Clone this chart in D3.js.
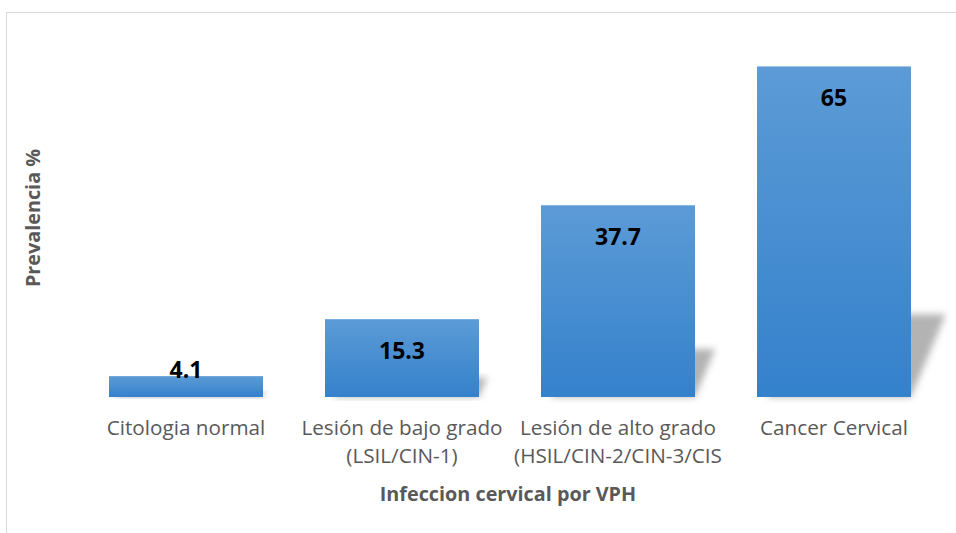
<!DOCTYPE html>
<html>
<head>
<meta charset="utf-8">
<script src="https://cdn.jsdelivr.net/npm/d3@7"></script>
<style>
  body { margin: 0; background: #fff; }
  svg { display: block; font-family: 'Open Sans', sans-serif; }
</style>
</head>
<body>
<svg id="chart" width="956" height="533"></svg>
<script>
'use strict';

// data
const categories = [
  ['Citologia normal'],
  ['Lesión de bajo grado', '(LSIL/CIN-1)'],
  ['Lesión de alto grado', '(HSIL/CIN-2/CIN-3/CIS'],
  ['Cancer Cervical'],
];
const prevalence = [4.1, 15.3, 37.7, 65];
const xTitle = 'Infeccion cervical por VPH';
const yTitle = 'Prevalencia %';

const svg = d3.select('#chart');
const baseline = 397;

// chart area border (cropped on the right and bottom)
svg.append('rect')
  .attr('x', 6.5).attr('y', 12.5)
  .attr('width', 1000).attr('height', 600)
  .attr('fill', 'none')
  .attr('stroke', '#d9d9d9');

const defs = svg.append('defs');
const grad = defs.append('linearGradient')
  .attr('id', 'barGrad')
  .attr('x1', 0).attr('y1', 0).attr('x2', 0).attr('y2', 1);
grad.append('stop').attr('offset', '0%').attr('stop-color', '#5c9bd6');
grad.append('stop').attr('offset', '100%').attr('stop-color', '#3481cc');

defs.append('filter')
  .attr('id', 'blur')
  .attr('x', '-20%').attr('y', '-20%').attr('width', '140%').attr('height', '140%')
  .append('feGaussianBlur')
  .attr('stdDeviation', 3.5);

const xScale = d3.scaleBand()
  .domain(d3.range(categories.length))
  .range([78, 942])
  .paddingInner(0.287)
  .paddingOuter(0.1435);

const yScale = d3.scaleLinear()
  .domain([0, 70])
  .range([baseline, 41]);

// perspective shadows behind the bars
svg.append('g')
  .selectAll('path')
  .data(prevalence)
  .join('path')
  .attr('fill', '#a6a6a6')
  .attr('opacity', 0.85)
  .attr('filter', 'url(#blur)')
  .attr('d', function(d, i) {
    const x0 = xScale(i);
    const x1 = x0 + xScale.bandwidth();
    const h = (baseline - yScale(d)) * 0.25;
    const dx = h * 0.42;
    return 'M' + (x0 + 10) + ',' + baseline +
      ' L' + x1 + ',' + baseline +
      ' L' + (x1 + dx) + ',' + (baseline - h) +
      ' L' + (x0 + dx) + ',' + (baseline - h) + ' Z';
  });

// bars
svg.append('g')
  .selectAll('rect')
  .data(prevalence)
  .join('rect')
  .attr('x', (d, i) => xScale(i))
  .attr('y', (d) => yScale(d))
  .attr('width', xScale.bandwidth())
  .attr('height', (d) => baseline - yScale(d))
  .attr('fill', 'url(#barGrad)');

// value labels
svg.append('g')
  .selectAll('text')
  .data(prevalence)
  .join('text')
  .attr('x', (d, i) => xScale(i) + xScale.bandwidth() / 2)
  .attr('y', (d) => Math.min(yScale(d) + 40, baseline - 19))
  .attr('text-anchor', 'middle')
  .attr('font-size', 23)
  .attr('font-weight', 'bold')
  .attr('fill', '#000')
  .text((d) => d);

// category labels
const ticks = svg.append('g')
  .selectAll('text')
  .data(categories)
  .join('text')
  .attr('x', (d, i) => xScale(i) + xScale.bandwidth() / 2)
  .attr('y', 435)
  .attr('text-anchor', 'middle')
  .attr('font-size', 20.7)
  .attr('fill', '#595959');

ticks.selectAll('tspan')
  .data((d) => d)
  .join('tspan')
  .attr('x', function() {
    return d3.select(this.parentNode).attr('x');
  })
  .attr('dy', (d, i) => (i === 0 ? 0 : 28))
  .text((d) => d);

// axis titles
svg.append('text')
  .attr('x', 508)
  .attr('y', 501)
  .attr('text-anchor', 'middle')
  .attr('font-size', 19.8)
  .attr('font-weight', 'bold')
  .attr('fill', '#595959')
  .text(xTitle);

svg.append('text')
  .attr('transform', 'translate(40,218) rotate(-90)')
  .attr('text-anchor', 'middle')
  .attr('font-size', 19.8)
  .attr('font-weight', 'bold')
  .attr('fill', '#595959')
  .text(yTitle);
</script>
</body>
</html>
